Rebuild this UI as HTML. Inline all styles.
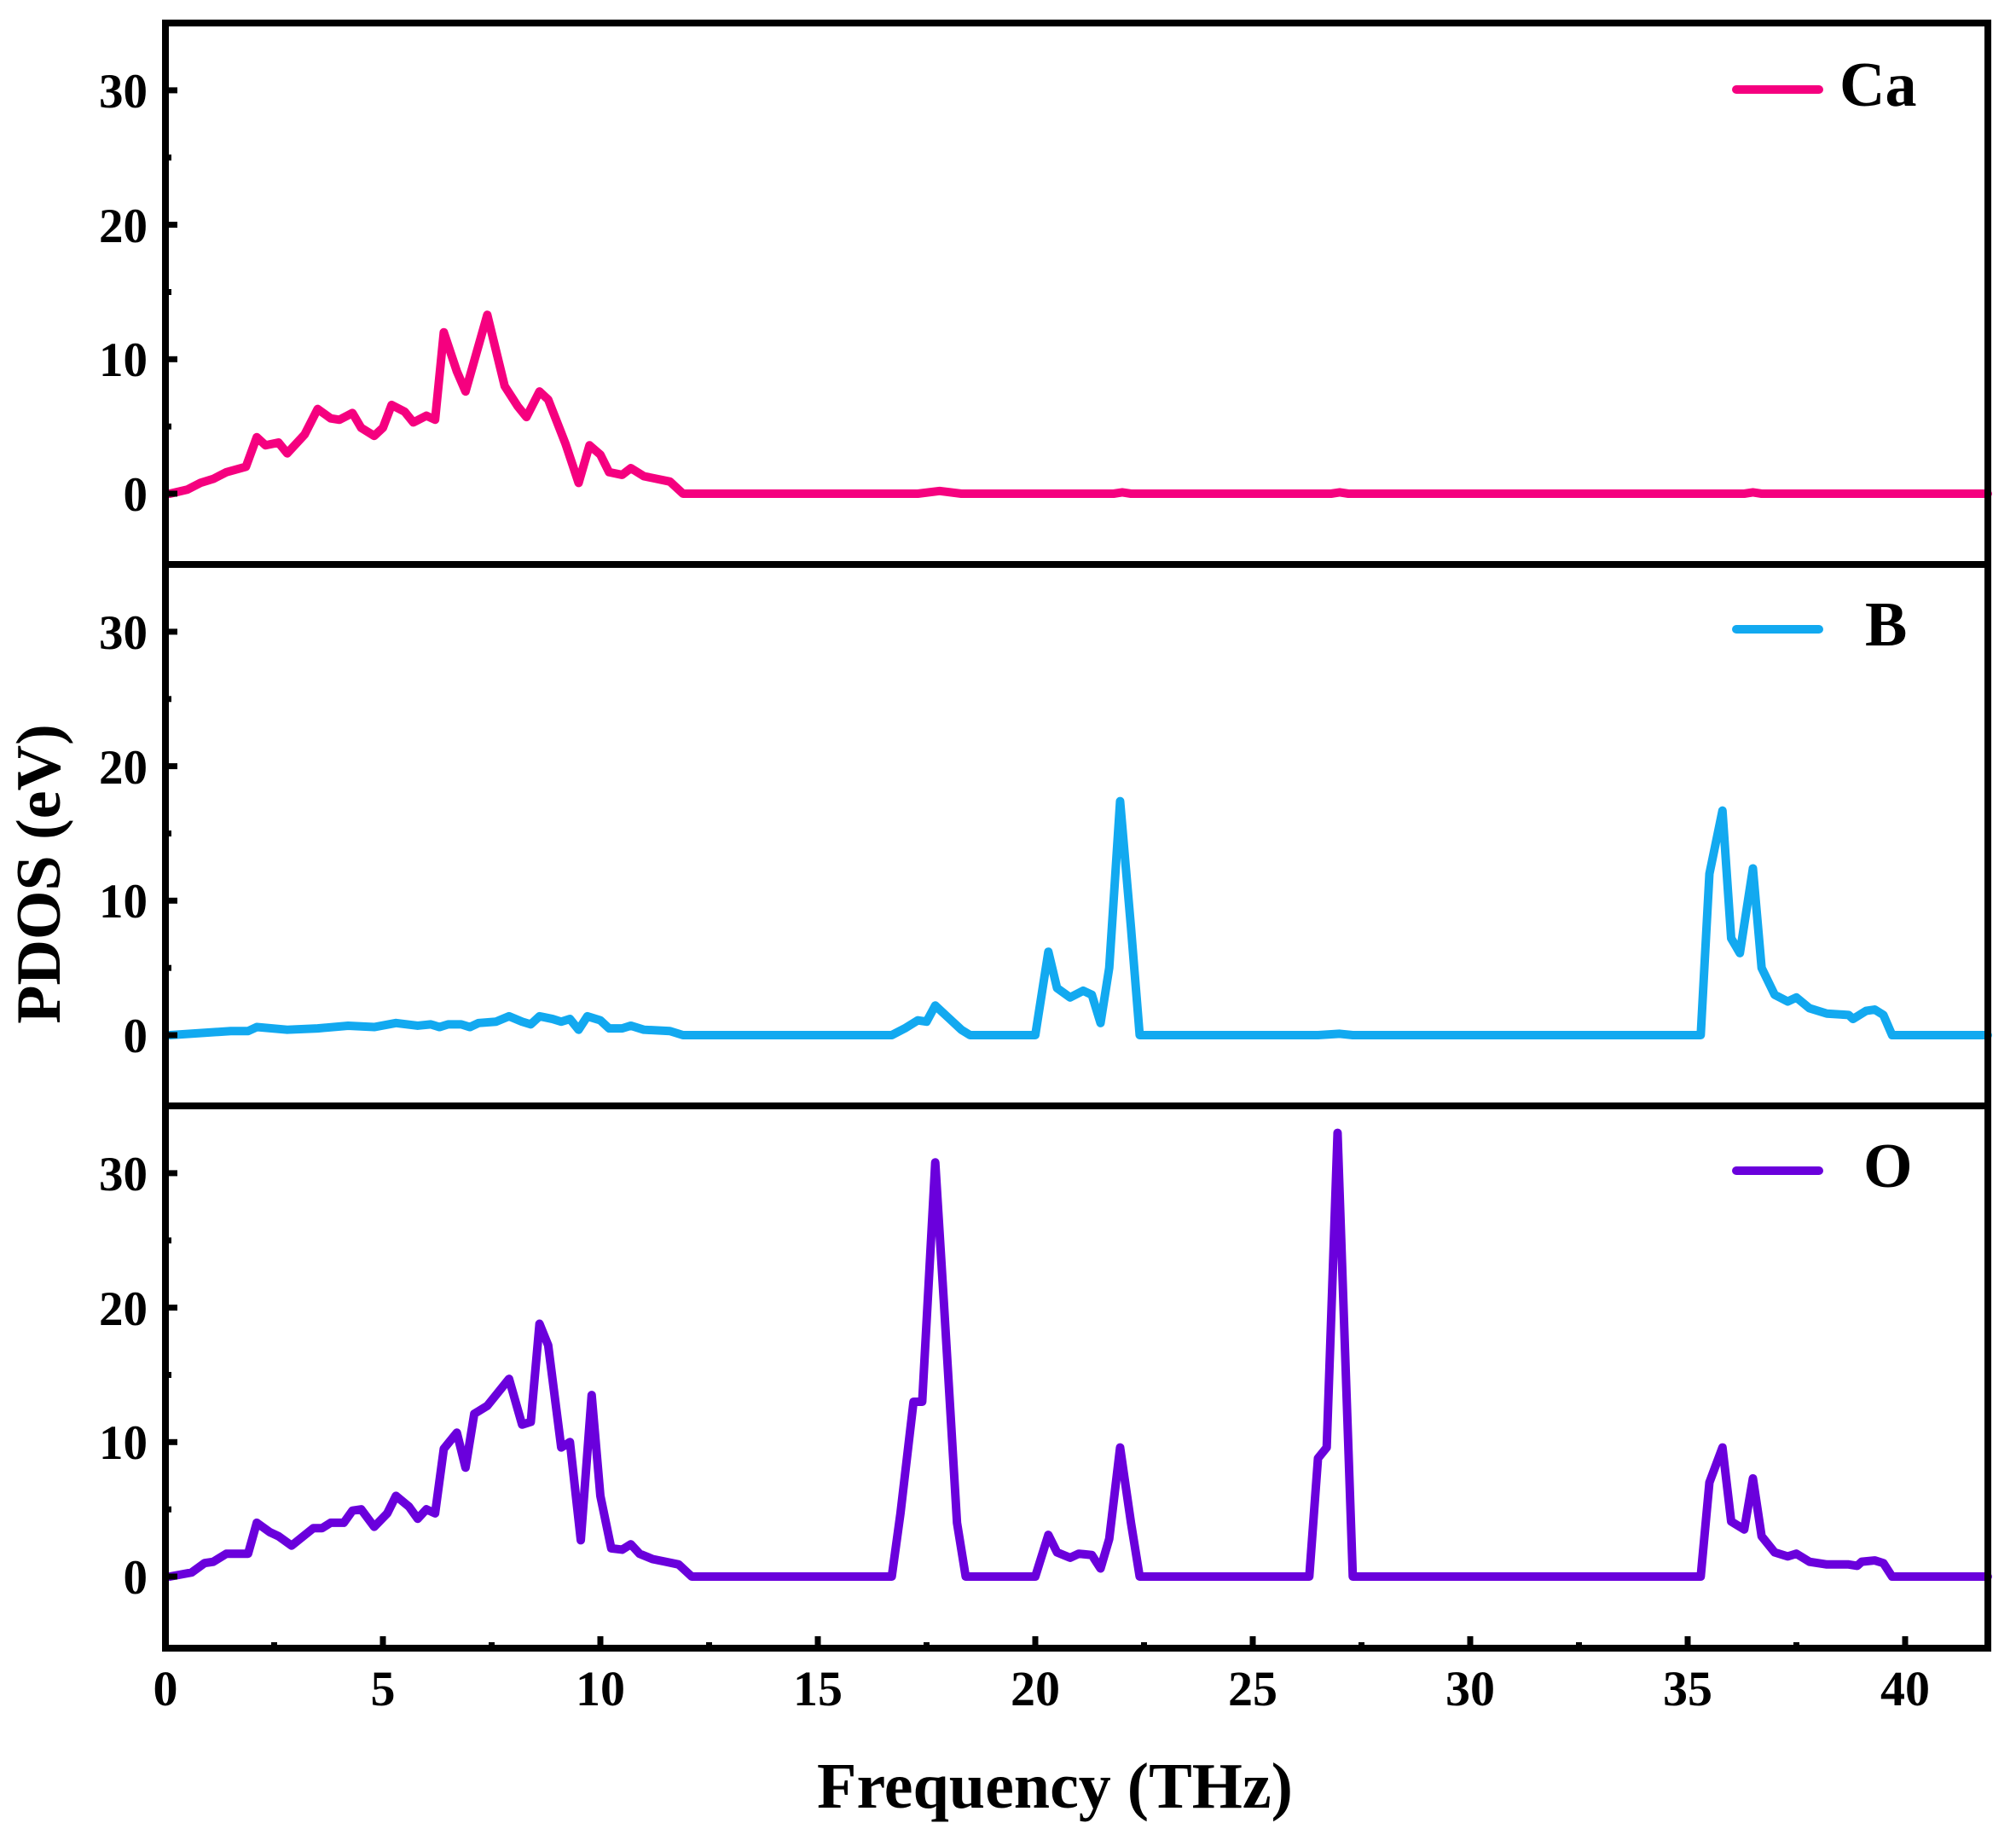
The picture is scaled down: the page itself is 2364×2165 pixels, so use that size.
<!DOCTYPE html>
<html><head><meta charset="utf-8"><style>
html,body{margin:0;padding:0;background:#fff}
svg text{font-family:"Liberation Serif",serif;font-weight:bold;fill:#000}
</style></head><body>
<svg width="2364" height="2160" viewBox="0 0 2364 2160" xmlns="http://www.w3.org/2000/svg">

<g transform="translate(194,579) scale(51.0,-15.77)">
<polyline fill="none" stroke="#F5007F" stroke-width="10" vector-effect="non-scaling-stroke" stroke-linejoin="round" stroke-linecap="round"
points="0.1,0 0.5,0.3 0.8,0.8 1.1,1.1 1.4,1.6 1.85,2 2.1,4.2 2.3,3.6 2.6,3.8 2.8,3 3.2,4.4 3.5,6.3 3.8,5.6 4,5.5 4.3,6 4.5,4.9 4.8,4.3 5,4.9 5.2,6.6 5.5,6.1 5.7,5.3 6,5.8 6.2,5.5 6.4,12 6.7,9.1 6.9,7.6 7.4,13.3 7.8,8 8.1,6.5 8.3,5.7 8.6,7.6 8.8,7 9.2,3.7 9.5,0.8 9.75,3.6 10,2.9 10.2,1.6 10.5,1.4 10.7,1.9 11,1.3 11.6,0.9 11.9,0 17.3,0 17.8,0.2 18.3,0 21.8,0 22,0.1 22.2,0 26.8,0 27,0.1 27.2,0 36.3,0 36.5,0.1 36.7,0 41.9,0"/>
</g>
<g transform="translate(194,1214) scale(51.0,-15.77)">
<polyline fill="none" stroke="#12A9F0" stroke-width="10" vector-effect="non-scaling-stroke" stroke-linejoin="round" stroke-linecap="round"
points="0.1,0 1.5,0.3 1.9,0.3 2.1,0.6 2.8,0.4 3.5,0.5 4.2,0.7 4.8,0.6 5.3,0.9 5.8,0.7 6.1,0.8 6.3,0.6 6.5,0.8 6.8,0.8 7,0.6 7.2,0.9 7.6,1 7.9,1.4 8.2,1 8.4,0.8 8.6,1.4 8.9,1.2 9.1,1 9.3,1.2 9.5,0.4 9.7,1.4 10,1.1 10.2,0.5 10.5,0.5 10.7,0.7 11,0.4 11.6,0.3 11.9,0 16.7,0 17,0.5 17.3,1.1 17.5,1 17.7,2.2 18,1.3 18.3,0.4 18.5,0 20,0 20.3,6.2 20.5,3.5 20.8,2.8 21.1,3.3 21.3,3 21.5,0.9 21.7,5 21.95,17.4 22.2,8 22.4,0 26.5,0 27,0.1 27.3,0 35.3,0 35.5,12 35.8,16.7 36,7.2 36.2,6.1 36.5,12.4 36.7,5 37,3 37.3,2.5 37.5,2.8 37.8,2 38.2,1.6 38.7,1.5 38.8,1.2 39.1,1.8 39.3,1.9 39.5,1.5 39.7,0 41.9,0"/>
</g>
<g transform="translate(194,1849) scale(51.0,-15.77)">
<polyline fill="none" stroke="#6A00DC" stroke-width="10" vector-effect="non-scaling-stroke" stroke-linejoin="round" stroke-linecap="round"
points="0.1,0 0.6,0.3 0.9,1 1.1,1.1 1.4,1.7 1.9,1.7 2.1,4 2.4,3.3 2.6,3 2.9,2.3 3.4,3.6 3.6,3.6 3.8,4 4.1,4 4.3,4.9 4.5,5 4.8,3.7 5.1,4.7 5.3,6 5.6,5.2 5.8,4.3 6,5 6.2,4.7 6.4,9.5 6.7,10.7 6.9,8.1 7.1,12.1 7.4,12.7 7.6,13.5 7.9,14.7 8.2,11.3 8.4,11.5 8.6,18.8 8.8,17.2 9.1,9.6 9.3,10 9.55,2.7 9.8,13.5 10,6 10.25,2.1 10.5,2 10.7,2.4 10.9,1.7 11.2,1.3 11.5,1.1 11.8,0.9 12,0.3 12.1,0 16.7,0 16.9,4.7 17.2,13 17.4,13 17.7,30.8 17.9,20.3 18.2,4 18.4,0 20,0 20.3,3.1 20.5,1.8 20.8,1.4 21,1.7 21.3,1.6 21.5,0.6 21.7,2.8 21.95,9.6 22.2,4 22.4,0 26.3,0 26.5,8.8 26.7,9.6 26.95,33 27.3,0 35.3,0 35.5,7 35.8,9.6 36,4.1 36.3,3.5 36.5,7.3 36.7,3 37,1.8 37.3,1.5 37.5,1.7 37.8,1.1 38.2,0.9 38.7,0.9 38.9,0.8 39,1.1 39.3,1.2 39.5,1 39.7,0 41.9,0"/>
</g>

<g fill="none" stroke="#000" stroke-width="8">
<rect x="194" y="27" width="2137" height="635"/>
<rect x="194" y="662" width="2137" height="635"/>
<rect x="194" y="1297" width="2137" height="636"/>
</g>

<g stroke="#000" stroke-width="7">
<line x1="194" x2="208" y1="579" y2="579"/><line x1="194" x2="208" y1="421.3" y2="421.3"/><line x1="194" x2="208" y1="263.6" y2="263.6"/><line x1="194" x2="208" y1="105.9" y2="105.9"/>
<line x1="194" x2="201" y1="500.2" y2="500.2"/><line x1="194" x2="201" y1="342.5" y2="342.5"/><line x1="194" x2="201" y1="184.8" y2="184.8"/>
<line x1="194" x2="208" y1="1214" y2="1214"/><line x1="194" x2="208" y1="1056.3" y2="1056.3"/><line x1="194" x2="208" y1="898.6" y2="898.6"/><line x1="194" x2="208" y1="740.9" y2="740.9"/>
<line x1="194" x2="201" y1="1135.2" y2="1135.2"/><line x1="194" x2="201" y1="977.5" y2="977.5"/><line x1="194" x2="201" y1="819.8" y2="819.8"/>
<line x1="194" x2="208" y1="1849" y2="1849"/><line x1="194" x2="208" y1="1691.3" y2="1691.3"/><line x1="194" x2="208" y1="1533.6" y2="1533.6"/><line x1="194" x2="208" y1="1375.9" y2="1375.9"/>
<line x1="194" x2="201" y1="1770.2" y2="1770.2"/><line x1="194" x2="201" y1="1612.5" y2="1612.5"/><line x1="194" x2="201" y1="1454.8" y2="1454.8"/>
<line y1="1933" y2="1919" x1="194" x2="194"/><line y1="1933" y2="1919" x1="449" x2="449"/><line y1="1933" y2="1919" x1="704" x2="704"/><line y1="1933" y2="1919" x1="959" x2="959"/><line y1="1933" y2="1919" x1="1214" x2="1214"/><line y1="1933" y2="1919" x1="1469" x2="1469"/><line y1="1933" y2="1919" x1="1724" x2="1724"/><line y1="1933" y2="1919" x1="1979" x2="1979"/><line y1="1933" y2="1919" x1="2234" x2="2234"/>
<line y1="1933" y2="1926" x1="321.5" x2="321.5"/><line y1="1933" y2="1926" x1="576.5" x2="576.5"/><line y1="1933" y2="1926" x1="831.5" x2="831.5"/><line y1="1933" y2="1926" x1="1086.5" x2="1086.5"/><line y1="1933" y2="1926" x1="1341.5" x2="1341.5"/><line y1="1933" y2="1926" x1="1596.5" x2="1596.5"/><line y1="1933" y2="1926" x1="1851.5" x2="1851.5"/><line y1="1933" y2="1926" x1="2106.5" x2="2106.5"/>
</g>

<g font-size="57" text-anchor="end">
<text x="173" y="599">0</text><text x="173" y="441">10</text><text x="173" y="284">20</text><text x="173" y="126">30</text>
<text x="173" y="1234">0</text><text x="173" y="1076">10</text><text x="173" y="919">20</text><text x="173" y="761">30</text>
<text x="173" y="1869">0</text><text x="173" y="1711">10</text><text x="173" y="1554">20</text><text x="173" y="1396">30</text>
</g>
<g font-size="58" text-anchor="middle">
<text x="194" y="2000">0</text><text x="449" y="2000">5</text><text x="704" y="2000">10</text><text x="959" y="2000">15</text><text x="1214" y="2000">20</text><text x="1469" y="2000">25</text><text x="1724" y="2000">30</text><text x="1979" y="2000">35</text><text x="2234" y="2000">40</text>
</g>

<text x="1237" y="2120" font-size="76" text-anchor="middle">Frequency (THz)</text>
<text transform="translate(70,1025) rotate(-90)" font-size="74" text-anchor="middle">PDOS (eV)</text>

<g stroke-width="10" stroke-linecap="round">
<line x1="2036" x2="2133" y1="105" y2="105" stroke="#F5007F"/>
<line x1="2036" x2="2133" y1="738" y2="738" stroke="#12A9F0"/>
<line x1="2036" x2="2133" y1="1373" y2="1373" stroke="#6A00DC"/>
</g>
<g font-size="74">
<text x="2157" y="124">Ca</text>
<text x="2187" y="757">B</text>
<text x="2185" y="1392">O</text>
</g>
</svg>
</body></html>
